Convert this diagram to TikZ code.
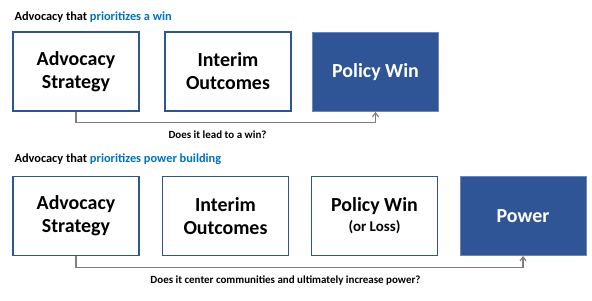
\documentclass[tikz,border=0pt]{standalone}
\usepackage{fontspec}
\setmainfont{Carlito}
\usepackage{xcolor}
\usepackage{tikz}
\usetikzlibrary{arrows.meta,positioning,calc}
\definecolor{advBlue}  {HTML}{2F5597}
\definecolor{advLight} {HTML}{0070C0}
\definecolor{advGray}  {HTML}{7F7F7F}

\begin{document}
\begin{tikzpicture}[x=1bp, y=-1bp,
      stage/.style={draw=advBlue, line width=1.6bp, fill=white,
                    minimum width=126bp, minimum height=79bp,
                    align=center, inner sep=2pt,
                    font=\fontsize{20}{23}\selectfont\bfseries},
      goal/.style={stage, fill=advBlue, draw=advBlue!70,
                   line width=0.8bp, text=white},
      heading/.style={anchor=west, font=\fontsize{12.4}{14}\selectfont\bfseries},
      question/.style={font=\fontsize{11}{13}\selectfont\bfseries},
      arrow/.style={-{Straight Barb[length=4bp, width=6bp]},
                    draw=advGray, line width=1.2bp}]

    \useasboundingbox (0,0) rectangle (592,300);

    % first row
    \node[heading] (head1) at (11,17)
      {Advocacy that \textcolor{advLight}{prioritizes a win}};

    \node[stage] (strat1)   at ( 76,71.5) {Advocacy\\Strategy};
    \node[stage] (interim1) at (228,71.5) {Interim\\Outcomes};
    \node[goal]  (win1)     at (375.5,72) {Policy Win};

    \draw[arrow] (strat1.south) -- ++(0,11) -| (win1.south);
    \node[question] (ask1) at (217.5,135) {Does it lead to a win?};

    % second row
    \node[heading] (head2) at (11,159)
      {Advocacy that \textcolor{advLight}{prioritizes power building}};

    \node[stage] (strat2)   at ( 76,216) {Advocacy\\Strategy};
    \node[stage] (interim2) at (225.5,216) {Interim\\Outcomes};
    \node[stage] (win2)     at (374.5,216)
      {Policy Win\\[-3bp]{\fontsize{15}{18}\selectfont(or Loss)}};
    \node[goal]  (power)    at (523,216) {Power};

    \draw[arrow] (strat2.south) -- ++(0,11) -| (power.south);
    \node[question] (ask2) at (285.5,281)
      {Does it center communities and ultimately increase power?};
  \end{tikzpicture}
\end{document}
